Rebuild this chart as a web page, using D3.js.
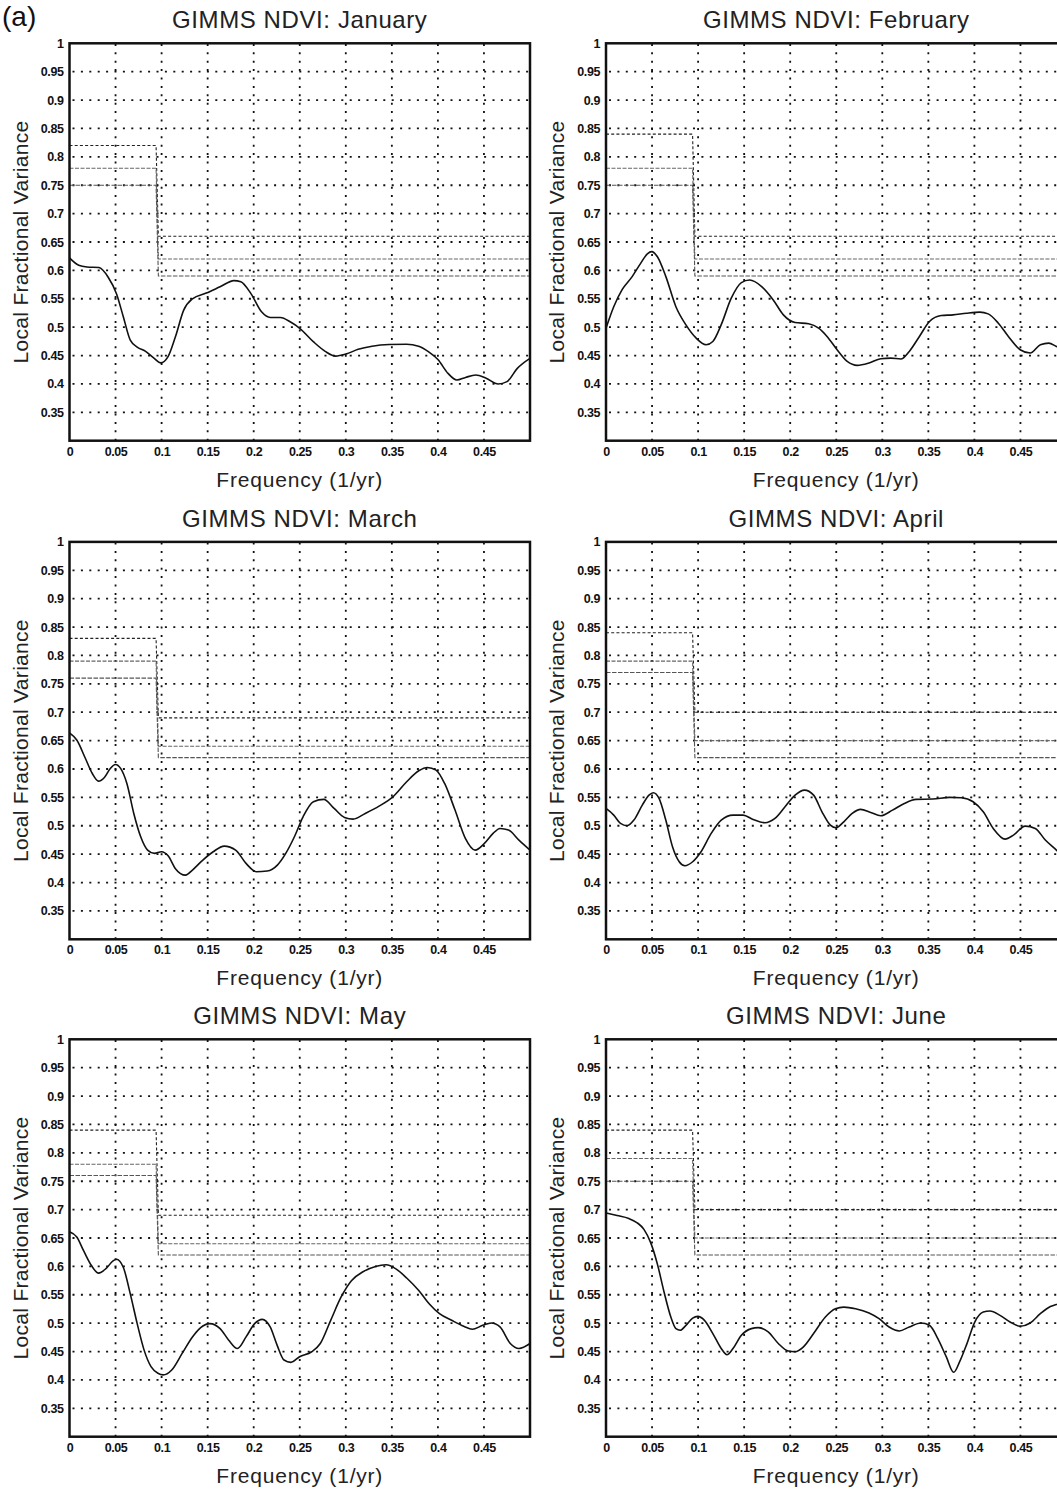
<!DOCTYPE html>
<html>
<head>
<meta charset="utf-8">
<title>GIMMS NDVI: Local Fractional Variance</title>
<script src="https://d3js.org/d3.v7.min.js"></script>
<style>
  body { margin: 0; background: #fff; }
  svg { display: block; }
  text { font-family: "Liberation Sans", Arial, sans-serif; fill: #111; }
  .title { font-size: 24px; letter-spacing: 0.6px; fill: #222; }
  .axis-title { font-size: 21px; letter-spacing: 0.8px; fill: #222; }
  .frame { fill: none; stroke: #111; stroke-width: 2.5px; }
  .grid { stroke: #111; stroke-width: 1.8px; stroke-dasharray: 2 6.4; }
  .curve { fill: none; stroke: #111; stroke-width: 1.6px; }
  .sig { fill: none; stroke-width: 1.1px; }
</style>
</head>
<body>
<svg width="1057" height="1496"></svg>
<script>
// ---- data ----
const months = ["January", "February", "March", "April", "May", "June"];
const freqTicks = [0, 0.05, 0.1, 0.15, 0.2, 0.25, 0.3, 0.35, 0.4, 0.45];
const varTicks = [0.35, 0.4, 0.45, 0.5, 0.55, 0.6, 0.65, 0.7, 0.75, 0.8, 0.85, 0.9, 0.95, 1];

// significance levels: [low-frequency value, high-frequency value] for each of the 3 curves
const sigBreak = [0.094, 0.0965];
const janSig = [[0.82, 0.66], [0.78, 0.62], [0.75, 0.59]];
const febSig = [[0.84, 0.66], [0.78, 0.62], [0.75, 0.59]];
const marSig = [[0.83, 0.69], [0.79, 0.64], [0.76, 0.62]];
const aprSig = [[0.84, 0.70], [0.79, 0.65], [0.77, 0.62]];
const maySig = [[0.84, 0.69], [0.78, 0.64], [0.76, 0.62]];
const junSig = [[0.84, 0.70], [0.79, 0.65], [0.75, 0.62]];

// local fractional variance curves: [frequency, value]
const janCurve = [[0,0.622],[0.01,0.609],[0.019,0.606],[0.032,0.605],[0.042,0.588],[0.051,0.559],
  [0.0585,0.518],[0.066,0.477],[0.0735,0.465],[0.083,0.457],[0.092,0.445],[0.099,0.437],[0.107,0.448],
  [0.115,0.483],[0.124,0.53],[0.1335,0.55],[0.1485,0.56],[0.1635,0.571],[0.1785,0.582],[0.186,0.58],
  [0.197,0.559],[0.2085,0.527],[0.218,0.517],[0.229,0.517],[0.24,0.509],[0.25,0.498],[0.265,0.474],
  [0.278,0.457],[0.289,0.449],[0.3,0.4525],[0.3135,0.461],[0.3285,0.4665],[0.347,0.4695],[0.366,0.47],
  [0.379,0.4665],[0.39,0.4565],[0.4,0.443],[0.411,0.4185],[0.4205,0.4068],[0.43,0.4115],[0.441,0.4156],
  [0.4524,0.41],[0.4655,0.40],[0.475,0.404],[0.486,0.427],[0.5,0.445]];
const febCurve = [[0,0.498],[0.0084,0.536],[0.0175,0.566],[0.0284,0.589],[0.0376,0.6124],[0.0449,0.629],
  [0.0496,0.633],[0.0558,0.624],[0.065,0.589],[0.0759,0.536],[0.0868,0.504],[0.0977,0.481],[0.1087,0.469],
  [0.116,0.4748],[0.125,0.504],[0.136,0.551],[0.147,0.5785],[0.156,0.583],[0.169,0.5714],[0.1816,0.548],
  [0.1926,0.5217],[0.2053,0.5082],[0.22,0.506],[0.2309,0.4982],[0.24,0.4836],[0.2509,0.4602],
  [0.2619,0.4397],[0.2728,0.4327],[0.2856,0.4368],[0.2983,0.4444],[0.3093,0.4455],[0.3202,0.4438],
  [0.3293,0.4573],[0.3403,0.4836],[0.3512,0.51],[0.364,0.5205],[0.3767,0.5217],[0.3913,0.5246],
  [0.4059,0.5264],[0.415,0.5234],[0.426,0.507],[0.4369,0.4836],[0.4497,0.4602],[0.4606,0.4544],
  [0.4716,0.469],[0.4807,0.4719],[0.489,0.466],[0.5,0.458]];
const marCurve = [[0,0.6637],[0.0079,0.651],[0.0173,0.6185],[0.0248,0.592],[0.0315,0.5786],[0.0379,0.585],
  [0.0443,0.601],[0.0499,0.608],[0.0555,0.601],[0.0623,0.5745],[0.0698,0.5217],[0.0773,0.4806],
  [0.0848,0.4572],[0.0923,0.4513],[0.0998,0.4542],[0.1073,0.4466],[0.1148,0.4249],[0.126,0.413],
  [0.1335,0.422],[0.1448,0.4396],[0.156,0.4542],[0.168,0.4642],[0.1804,0.4572],[0.1917,0.4337],
  [0.2029,0.419],[0.2146,0.4202],[0.2257,0.4307],[0.2348,0.4513],[0.2442,0.4806],[0.2536,0.5158],
  [0.2648,0.5423],[0.2761,0.5464],[0.2873,0.5305],[0.2986,0.5147],[0.308,0.5117],[0.3211,0.5217],
  [0.3361,0.5346],[0.3511,0.551],[0.3661,0.5775],[0.3792,0.5968],[0.3886,0.6027],[0.398,0.598],
  [0.4073,0.5745],[0.4186,0.5276],[0.4298,0.4777],[0.4404,0.4571],[0.4505,0.4689],[0.4599,0.4865],
  [0.4674,0.4953],[0.4767,0.4924],[0.488,0.4748],[0.5,0.4572]];
const aprCurve = [[0,0.5305],[0.0084,0.5188],[0.0157,0.5041],[0.023,0.5],[0.0303,0.51],[0.0394,0.5364],
  [0.0467,0.554],[0.0514,0.5581],[0.0576,0.5481],[0.0649,0.51],[0.0722,0.463],[0.0795,0.4366],
  [0.0857,0.4296],[0.0941,0.4366],[0.1032,0.4542],[0.1142,0.4865],[0.1251,0.51],[0.1379,0.5188],
  [0.1488,0.5188],[0.1597,0.5111],[0.1725,0.5053],[0.1834,0.5129],[0.1944,0.5335],[0.2053,0.554],
  [0.2155,0.5628],[0.2254,0.554],[0.2345,0.5246],[0.2436,0.5012],[0.2498,0.4965],[0.2582,0.507],
  [0.2673,0.5217],[0.2764,0.5288],[0.2874,0.5235],[0.2983,0.5176],[0.3111,0.5276],[0.3239,0.5393],
  [0.3366,0.5464],[0.3549,0.547],[0.3731,0.55],[0.3859,0.5493],[0.3986,0.5423],[0.4096,0.5246],
  [0.4205,0.4953],[0.4333,0.4765],[0.4424,0.4836],[0.4551,0.4994],[0.4661,0.4953],[0.477,0.4748],
  [0.489,0.4572],[0.5,0.44]];
const mayCurve = [[0,0.661],[0.0079,0.6517],[0.0154,0.6273],[0.024,0.601],[0.0315,0.5882],[0.0398,0.5964],
  [0.0473,0.6098],[0.051,0.6127],[0.0585,0.5981],[0.066,0.5515],[0.0735,0.4991],[0.081,0.4525],
  [0.0885,0.4234],[0.096,0.4118],[0.1017,0.4089],[0.111,0.4176],[0.1223,0.4467],[0.1335,0.4758],
  [0.1448,0.495],[0.1523,0.4991],[0.1635,0.4904],[0.1729,0.47],[0.1823,0.4554],[0.1917,0.4758],
  [0.201,0.4991],[0.2093,0.5067],[0.2179,0.4933],[0.2254,0.4613],[0.2329,0.4351],[0.2404,0.431],
  [0.2498,0.4409],[0.2629,0.4496],[0.2723,0.4642],[0.2836,0.505],[0.2948,0.5457],[0.3061,0.5748],
  [0.3192,0.5911],[0.3323,0.5999],[0.3436,0.6028],[0.3548,0.5952],[0.3661,0.5795],[0.3792,0.5574],
  [0.3905,0.5341],[0.4017,0.5166],[0.4149,0.505],[0.428,0.4945],[0.4374,0.4892],[0.4486,0.4962],
  [0.458,0.5003],[0.4674,0.4933],[0.4786,0.4642],[0.488,0.4554],[0.5,0.4642]];
const junCurve = [[0,0.6942],[0.012,0.6896],[0.0248,0.6843],[0.0339,0.6768],[0.0412,0.6652],[0.0485,0.6418],
  [0.0558,0.604],[0.0631,0.5545],[0.0704,0.5108],[0.0759,0.4904],[0.0806,0.4875],[0.0868,0.4962],
  [0.0941,0.509],[0.0996,0.512],[0.1069,0.505],[0.116,0.4817],[0.1251,0.4554],[0.1313,0.4444],
  [0.1379,0.4554],[0.147,0.4787],[0.1579,0.4904],[0.1652,0.4921],[0.1761,0.4846],[0.1871,0.4642],
  [0.198,0.4508],[0.2053,0.4496],[0.2144,0.4583],[0.2254,0.4817],[0.2382,0.5108],[0.2491,0.5253],
  [0.2582,0.5282],[0.271,0.5253],[0.2856,0.5178],[0.2965,0.5079],[0.3074,0.4933],[0.3184,0.4863],
  [0.3293,0.4933],[0.342,0.5003],[0.3512,0.4962],[0.3603,0.4729],[0.3694,0.4409],[0.3775,0.4135],
  [0.384,0.4321],[0.3913,0.4613],[0.4004,0.502],[0.4096,0.5195],[0.4169,0.5213],[0.4278,0.5137],
  [0.4387,0.502],[0.4497,0.4945],[0.4606,0.5003],[0.4716,0.5166],[0.4825,0.5294],[0.489,0.5329],[0.5,0.54]];

const curves = [janCurve, febCurve, marCurve, aprCurve, mayCurve, junCurve];
const sigLevels = [janSig, febSig, marSig, aprSig, maySig, junSig];

// ---- layout ----
const svg = d3.select("svg");
const panelLeft = [69.5, 606];
const panelTop = [43.3, 541.9, 1039.3];
const width = 460.5, height = 397.4;

const x = d3.scaleLinear().domain([0, 0.5]).range([0, width]);
const y = d3.scaleLinear().domain([0.3, 1]).range([height, 0]);
const fmt = d => String(+d.toFixed(2));

// dash styles for the three significance curves
const sigStyle = [
  { stroke: "#222", dash: "3 2.2" },
  { stroke: "#666", dash: "4 1.5" },
  { stroke: "#555", dash: "4.5 1.5" }
];

const line = d3.line().x(d => x(d[0])).y(d => y(d[1])).curve(d3.curveMonotoneX);
const stepLine = d3.line().x(d => x(d[0])).y(d => y(d[1]));

svg.append("text")
  .attr("x", 2).attr("y", 26)
  .style("font-size", "28px")
  .text("(a)");

months.forEach((m, i) => {
  const col = i % 2, row = Math.floor(i / 2);
  const g = svg.append("g")
    .attr("transform", `translate(${panelLeft[col]},${panelTop[row]})`);

  // dotted grid
  g.selectAll(".vgrid")
    .data(freqTicks.filter(d => d > 0))
    .join("line")
    .attr("class", "grid")
    .attr("x1", d => x(d)).attr("x2", d => x(d))
    .attr("y1", height).attr("y2", 0);
  g.selectAll(".hgrid")
    .data(varTicks.filter(d => d < 1))
    .join("line")
    .attr("class", "grid")
    .attr("x1", 3).attr("x2", width)
    .attr("y1", d => y(d)).attr("y2", d => y(d));

  // significance steps
  g.selectAll(".sig")
    .data(sigLevels[i])
    .join("path")
    .attr("class", "sig")
    .attr("stroke", (d, k) => sigStyle[k].stroke)
    .attr("stroke-dasharray", (d, k) => sigStyle[k].dash)
    .attr("d", d => stepLine([[0, d[0]], [sigBreak[0], d[0]], [sigBreak[1], d[1]], [0.5, d[1]]]));

  // the spectrum
  g.append("path")
    .attr("class", "curve")
    .attr("d", line(curves[i]));

  // axes (labels only, the frame is drawn separately)
  const xa = g.append("g")
    .attr("transform", `translate(0,${height})`)
    .call(d3.axisBottom(x).tickValues(freqTicks).tickSize(0).tickPadding(6).tickFormat(fmt));
  const ya = g.append("g")
    .call(d3.axisLeft(y).tickValues(varTicks).tickSize(0).tickPadding(6).tickFormat(fmt));
  [xa, ya].forEach(a => {
    a.select(".domain").remove();
    a.attr("font-family", null).attr("font-size", null);
    a.selectAll("text")
      .style("font-size", "12.5px")
      .style("font-weight", "bold")
      .style("letter-spacing", "-0.4px")
      .attr("fill", "#111");
  });

  g.append("rect")
    .attr("class", "frame")
    .attr("width", width).attr("height", height);

  g.append("text")
    .attr("class", "title")
    .attr("x", width / 2).attr("y", -15)
    .attr("text-anchor", "middle")
    .text(`GIMMS NDVI: ${m}`);

  g.append("text")
    .attr("class", "axis-title")
    .attr("x", width / 2).attr("y", height + 46)
    .attr("text-anchor", "middle")
    .text("Frequency (1/yr)");

  g.append("text")
    .attr("class", "axis-title")
    .attr("transform", `translate(-42,${height / 2}) rotate(-90)`)
    .attr("text-anchor", "middle")
    .style("letter-spacing", "0.3px")
    .text("Local Fractional Variance");
});
</script>
</body>
</html>
